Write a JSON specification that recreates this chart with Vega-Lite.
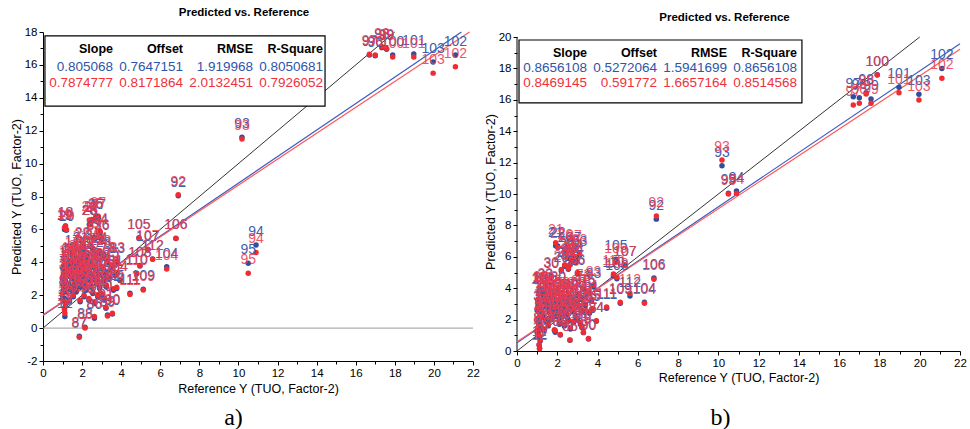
{
  "$schema": "https://vega.github.io/schema/vega-lite/v6.json",
  "background": "white",
  "autosize": {"type": "none"},
  "padding": {"left": 43, "top": 32, "right": 927, "bottom": 397},
  "bounds": "flush",
  "spacing": 44,
  "datasets": {
    "samples": [
      {"id":1,"ref":1.05,"a_ext":3.6,"a_int":3.7,"b_ext":3.2,"b_int":3.3},
      {"id":2,"ref":1.1,"a_ext":3.3,"a_int":3.4,"b_ext":2.9,"b_int":3.0},
      {"id":3,"ref":1.0,"a_ext":3.0,"a_int":3.1,"b_ext":2.6,"b_int":2.7},
      {"id":4,"ref":1.15,"a_ext":2.8,"a_int":2.9,"b_ext":2.3,"b_int":2.2},
      {"id":5,"ref":1.05,"a_ext":2.6,"a_int":2.5,"b_ext":2.0,"b_int":2.1},
      {"id":6,"ref":1.1,"a_ext":2.4,"a_int":2.3,"b_ext":1.8,"b_int":1.7},
      {"id":7,"ref":1.2,"a_ext":2.2,"a_int":2.3,"b_ext":1.5,"b_int":1.4},
      {"id":8,"ref":1.0,"a_ext":2.0,"a_int":2.1,"b_ext":1.2,"b_int":1.3},
      {"id":9,"ref":1.1,"a_ext":1.8,"a_int":1.7,"b_ext":0.9,"b_int":1.0},
      {"id":10,"ref":1.15,"a_ext":1.5,"a_int":1.4,"b_ext":0.64,"b_int":0.7},
      {"id":11,"ref":1.1,"a_ext":1.2,"a_int":1.1,"b_ext":0.38,"b_int":0.4},
      {"id":12,"ref":1.12,"a_ext":0.7,"a_int":0.9,"b_ext":0.17,"b_int":0.15},
      {"id":13,"ref":1.2,"a_ext":3.8,"a_int":3.9,"b_ext":3.7,"b_int":3.9},
      {"id":14,"ref":1.25,"a_ext":3.2,"a_int":3.3,"b_ext":2.4,"b_int":2.5},
      {"id":15,"ref":1.3,"a_ext":2.7,"a_int":2.6,"b_ext":2.1,"b_int":2.2},
      {"id":16,"ref":1.35,"a_ext":4.0,"a_int":4.1,"b_ext":3.4,"b_int":3.5},
      {"id":17,"ref":1.5,"a_ext":4.5,"a_int":4.4,"b_ext":3.2,"b_int":3.3},
      {"id":18,"ref":1.15,"a_ext":6.2,"a_int":6.2,"b_ext":3.85,"b_int":3.9},
      {"id":19,"ref":1.1,"a_ext":6.0,"a_int":6.1,"b_ext":3.75,"b_int":3.7},
      {"id":20,"ref":1.2,"a_ext":5.95,"a_int":6.0,"b_ext":3.8,"b_int":3.85},
      {"id":21,"ref":1.92,"a_ext":4.7,"a_int":4.8,"b_ext":6.7,"b_int":6.9},
      {"id":22,"ref":2.02,"a_ext":4.9,"a_int":5.0,"b_ext":6.69,"b_int":6.6},
      {"id":23,"ref":3.1,"a_ext":4.4,"a_int":4.5,"b_ext":6.1,"b_int":6.22},
      {"id":24,"ref":2.9,"a_ext":4.6,"a_int":4.7,"b_ext":5.9,"b_int":6.0},
      {"id":25,"ref":2.75,"a_ext":4.5,"a_int":4.6,"b_ext":6.1,"b_int":6.2},
      {"id":26,"ref":2.4,"a_ext":6.3,"a_int":6.3,"b_ext":6.4,"b_int":6.54},
      {"id":27,"ref":2.5,"a_ext":6.5,"a_int":6.6,"b_ext":5.9,"b_int":6.0},
      {"id":28,"ref":2.37,"a_ext":6.3,"a_int":6.57,"b_ext":5.4,"b_int":5.5},
      {"id":29,"ref":2.2,"a_ext":4.3,"a_int":4.4,"b_ext":5.1,"b_int":5.2},
      {"id":30,"ref":1.7,"a_ext":4.1,"a_int":4.2,"b_ext":4.7,"b_int":4.8},
      {"id":31,"ref":2.55,"a_ext":4.8,"a_int":4.85,"b_ext":5.2,"b_int":5.27},
      {"id":32,"ref":2.63,"a_ext":5.4,"a_int":5.5,"b_ext":5.5,"b_int":5.48},
      {"id":33,"ref":1.4,"a_ext":3.9,"a_int":4.0,"b_ext":4.0,"b_int":4.1},
      {"id":34,"ref":2.93,"a_ext":5.8,"a_int":5.86,"b_ext":5.69,"b_int":5.6},
      {"id":35,"ref":2.7,"a_ext":6.7,"a_int":6.77,"b_ext":5.7,"b_int":5.8},
      {"id":36,"ref":3.0,"a_ext":5.4,"a_int":5.46,"b_ext":4.9,"b_int":5.0},
      {"id":37,"ref":2.83,"a_ext":6.7,"a_int":6.8,"b_ext":6.4,"b_int":6.5},
      {"id":38,"ref":1.4,"a_ext":3.5,"a_int":3.6,"b_ext":3.1,"b_int":3.2},
      {"id":39,"ref":1.5,"a_ext":3.0,"a_int":3.1,"b_ext":2.8,"b_int":2.9},
      {"id":40,"ref":1.6,"a_ext":2.6,"a_int":2.7,"b_ext":2.5,"b_int":2.6},
      {"id":41,"ref":1.65,"a_ext":3.8,"a_int":3.9,"b_ext":3.3,"b_int":3.4},
      {"id":42,"ref":1.7,"a_ext":2.2,"a_int":2.3,"b_ext":2.0,"b_int":2.1},
      {"id":43,"ref":1.75,"a_ext":3.3,"a_int":3.4,"b_ext":2.9,"b_int":3.0},
      {"id":44,"ref":1.8,"a_ext":2.9,"a_int":3.0,"b_ext":2.6,"b_int":2.7},
      {"id":45,"ref":1.85,"a_ext":4.1,"a_int":4.2,"b_ext":3.5,"b_int":3.6},
      {"id":46,"ref":1.9,"a_ext":2.5,"a_int":2.6,"b_ext":2.2,"b_int":2.3},
      {"id":47,"ref":1.95,"a_ext":3.6,"a_int":3.7,"b_ext":3.1,"b_int":3.2},
      {"id":48,"ref":2.0,"a_ext":3.1,"a_int":3.2,"b_ext":2.7,"b_int":2.8},
      {"id":49,"ref":2.05,"a_ext":2.7,"a_int":2.8,"b_ext":2.4,"b_int":2.5},
      {"id":50,"ref":2.1,"a_ext":1.9,"a_int":2.0,"b_ext":1.7,"b_int":1.8},
      {"id":51,"ref":2.15,"a_ext":3.4,"a_int":3.5,"b_ext":3.0,"b_int":3.1},
      {"id":52,"ref":2.2,"a_ext":2.3,"a_int":2.4,"b_ext":2.1,"b_int":2.2},
      {"id":53,"ref":2.25,"a_ext":3.9,"a_int":4.0,"b_ext":3.4,"b_int":3.5},
      {"id":54,"ref":2.3,"a_ext":2.9,"a_int":3.0,"b_ext":2.6,"b_int":2.7},
      {"id":55,"ref":2.35,"a_ext":1.7,"a_int":1.8,"b_ext":1.6,"b_int":1.7},
      {"id":56,"ref":2.4,"a_ext":3.3,"a_int":3.4,"b_ext":3.0,"b_int":3.1},
      {"id":57,"ref":2.45,"a_ext":2.5,"a_int":2.6,"b_ext":2.3,"b_int":2.4},
      {"id":58,"ref":2.5,"a_ext":3.7,"a_int":3.8,"b_ext":3.4,"b_int":3.5},
      {"id":59,"ref":2.55,"a_ext":2.1,"a_int":2.2,"b_ext":1.9,"b_int":2.0},
      {"id":60,"ref":2.6,"a_ext":3.0,"a_int":3.1,"b_ext":2.8,"b_int":2.9},
      {"id":61,"ref":2.65,"a_ext":1.5,"a_int":1.6,"b_ext":1.4,"b_int":1.5},
      {"id":62,"ref":2.7,"a_ext":3.5,"a_int":3.6,"b_ext":3.3,"b_int":3.4},
      {"id":63,"ref":2.75,"a_ext":2.7,"a_int":2.8,"b_ext":2.5,"b_int":2.6},
      {"id":64,"ref":2.8,"a_ext":1.9,"a_int":2.0,"b_ext":1.8,"b_int":1.9},
      {"id":65,"ref":2.85,"a_ext":3.2,"a_int":3.3,"b_ext":3.1,"b_int":3.2},
      {"id":66,"ref":2.9,"a_ext":2.4,"a_int":2.5,"b_ext":2.2,"b_int":2.3},
      {"id":67,"ref":3.0,"a_ext":2.0,"a_int":2.1,"b_ext":2.0,"b_int":2.1},
      {"id":68,"ref":3.05,"a_ext":3.6,"a_int":3.7,"b_ext":3.5,"b_int":3.6},
      {"id":69,"ref":3.1,"a_ext":2.9,"a_int":3.0,"b_ext":2.8,"b_int":2.9},
      {"id":70,"ref":3.15,"a_ext":1.7,"a_int":1.8,"b_ext":1.7,"b_int":1.8},
      {"id":71,"ref":3.2,"a_ext":3.3,"a_int":3.4,"b_ext":3.3,"b_int":3.4},
      {"id":72,"ref":3.25,"a_ext":2.5,"a_int":2.6,"b_ext":2.5,"b_int":2.6},
      {"id":73,"ref":3.3,"a_ext":4.0,"a_int":4.1,"b_ext":3.9,"b_int":4.0},
      {"id":74,"ref":3.4,"a_ext":3.0,"a_int":3.1,"b_ext":2.9,"b_int":3.0},
      {"id":75,"ref":3.5,"a_ext":3.7,"a_int":3.8,"b_ext":3.6,"b_int":3.7},
      {"id":76,"ref":1.55,"a_ext":1.9,"a_int":2.0,"b_ext":1.6,"b_int":1.7},
      {"id":77,"ref":1.45,"a_ext":2.3,"a_int":2.4,"b_ext":1.9,"b_int":2.0},
      {"id":78,"ref":1.35,"a_ext":1.6,"a_int":1.7,"b_ext":1.3,"b_int":1.4},
      {"id":79,"ref":1.9,"a_ext":1.6,"a_int":1.7,"b_ext":1.2,"b_int":1.3},
      {"id":80,"ref":2.05,"a_ext":4.4,"a_int":4.5,"b_ext":3.8,"b_int":3.9},
      {"id":81,"ref":3.7,"a_ext":3.2,"a_int":3.3,"b_ext":3.2,"b_int":3.3},
      {"id":82,"ref":3.6,"a_ext":2.3,"a_int":2.4,"b_ext":2.4,"b_int":2.5},
      {"id":83,"ref":3.8,"a_ext":4.0,"a_int":4.1,"b_ext":4.1,"b_int":4.2},
      {"id":84,"ref":3.94,"a_ext":2.9,"a_int":2.92,"b_ext":1.9,"b_int":1.93},
      {"id":85,"ref":3.77,"a_ext":2.4,"a_int":2.48,"b_ext":2.6,"b_int":2.7},
      {"id":86,"ref":2.63,"a_ext":0.6,"a_int":0.7,"b_ext":0.68,"b_int":0.7},
      {"id":87,"ref":1.86,"a_ext":-0.5,"a_int":-0.56,"b_ext":1.3,"b_int":1.35},
      {"id":88,"ref":2.15,"a_ext":0.05,"a_int":0.0,"b_ext":1.02,"b_int":1.05},
      {"id":89,"ref":3.3,"a_ext":0.8,"a_int":0.74,"b_ext":1.17,"b_int":1.2},
      {"id":90,"ref":3.55,"a_ext":0.85,"a_int":0.9,"b_ext":0.76,"b_int":0.8},
      {"id":91,"ref":3.22,"a_ext":1.2,"a_int":1.25,"b_ext":1.5,"b_int":1.55},
      {"id":92,"ref":6.92,"a_ext":8.05,"a_int":8.1,"b_ext":8.4,"b_int":8.6},
      {"id":93,"ref":10.18,"a_ext":11.6,"a_int":11.5,"b_ext":11.8,"b_int":12.17},
      {"id":94,"ref":10.9,"a_ext":5.05,"a_int":4.6,"b_ext":10.19,"b_int":10.04},
      {"id":95,"ref":10.5,"a_ext":3.94,"a_int":3.33,"b_ext":10.05,"b_int":10.0},
      {"id":96,"ref":17.0,"a_ext":16.56,"a_int":16.6,"b_ext":16.13,"b_int":15.78},
      {"id":97,"ref":16.7,"a_ext":16.6,"a_int":16.65,"b_ext":16.2,"b_int":15.67},
      {"id":98,"ref":17.34,"a_ext":17.05,"a_int":17.1,"b_ext":16.45,"b_int":16.37},
      {"id":99,"ref":17.58,"a_ext":16.95,"a_int":17.0,"b_ext":16.05,"b_int":15.78},
      {"id":100,"ref":17.89,"a_ext":16.6,"a_int":16.48,"b_ext":17.6,"b_int":17.58},
      {"id":101,"ref":18.97,"a_ext":16.66,"a_int":16.48,"b_ext":16.8,"b_int":16.45},
      {"id":102,"ref":21.1,"a_ext":16.6,"a_int":15.89,"b_ext":18.0,"b_int":17.37},
      {"id":103,"ref":19.96,"a_ext":16.18,"a_int":15.5,"b_ext":16.35,"b_int":15.99},
      {"id":104,"ref":6.33,"a_ext":3.73,"a_int":3.59,"b_ext":3.1,"b_int":3.04},
      {"id":105,"ref":4.91,"a_ext":5.5,"a_int":5.45,"b_ext":5.84,"b_int":5.65},
      {"id":106,"ref":6.8,"a_ext":5.45,"a_int":5.46,"b_ext":4.65,"b_int":4.57},
      {"id":107,"ref":5.36,"a_ext":4.75,"a_int":4.8,"b_ext":5.45,"b_int":5.48},
      {"id":108,"ref":4.96,"a_ext":3.78,"a_int":3.8,"b_ext":4.6,"b_int":4.7},
      {"id":109,"ref":5.13,"a_ext":2.36,"a_int":2.32,"b_ext":3.04,"b_int":3.1},
      {"id":110,"ref":4.79,"a_ext":3.33,"a_int":3.3,"b_ext":4.8,"b_int":4.9},
      {"id":111,"ref":4.45,"a_ext":2.12,"a_int":2.05,"b_ext":2.72,"b_int":2.8},
      {"id":112,"ref":5.61,"a_ext":4.2,"a_int":4.18,"b_ext":3.5,"b_int":3.67}
    ],
    "stats": [
      {"panel":"a","stat":"Slope","ext":"0.805068","int":"0.7874777"},
      {"panel":"a","stat":"Offset","ext":"0.7647151","int":"0.8171864"},
      {"panel":"a","stat":"RMSE","ext":"1.919968","int":"2.0132451"},
      {"panel":"a","stat":"R-Square","ext":"0.8050681","int":"0.7926052"},
      {"panel":"b","stat":"Slope","ext":"0.8656108","int":"0.8469145"},
      {"panel":"b","stat":"Offset","ext":"0.5272064","int":"0.591772"},
      {"panel":"b","stat":"RMSE","ext":"1.5941699","int":"1.6657164"},
      {"panel":"b","stat":"R-Square","ext":"0.8656108","int":"0.8514568"}
    ]
  },
  "hconcat": [
    {
      "width": 430,
      "height": 329,
      "title": {"text": "Predicted vs. Reference", "frame": "group", "anchor": "middle", "dx": -14, "dy": 11, "offset": 9.5, "baseline": "alphabetic", "font": "Liberation Sans", "fontSize": 11.5, "fontWeight": "bold", "color": "black"},
      "data": {"name": "samples"},
      "resolve": {"scale": {"x": "independent", "y": "independent"}},
      "layer": [
        {
          "data": {"values": [{}]},
          "mark": {"type": "rule", "color": "#9a9a9a", "strokeWidth": 1},
          "encoding": {
            "x": {"datum": 0, "type": "quantitative", "scale": {"domain": [0, 22], "nice": false},
              "axis": {"orient": "bottom", "values": [1,3,5,7,9,11,13,15,17,19,21], "tickCount": 50, "labels": false, "ticks": true, "tickSize": 3, "domain": false, "grid": false, "title": "a)", "titleFont": "Liberation Serif", "titleFontSize": 24, "titleFontWeight": "normal", "titleColor": "black", "titlePadding": 41, "titleX": 190}},
            "x2": {"datum": 22},
            "y": {"datum": 0, "type": "quantitative", "scale": {"domain": [-2, 18], "nice": false},
              "axis": {"orient": "left", "values": [-1,1,3,5,7,9,11,13,15,17], "tickCount": 50, "labels": false, "ticks": true, "tickSize": 3, "domain": false, "grid": false, "title": null}}
          }
        },
        {
          "layer": [
            {"data": {"values": [{}]}, "mark": {"type": "rule", "color": "#333333", "strokeWidth": 1},
              "encoding": {"x": {"datum": 0}, "y": {"datum": 0}, "x2": {"datum": 18}, "y2": {"datum": 18}}},
            {"data": {"values": [{}]}, "mark": {"type": "rule", "color": "#3b5cc4", "strokeWidth": 1.2},
              "encoding": {"x": {"datum": 0}, "y": {"datum": 0.7647151}, "x2": {"datum": 21.408}, "y2": {"datum": 18}}},
            {"data": {"values": [{}]}, "mark": {"type": "rule", "color": "#ff5a5a", "strokeWidth": 1.2},
              "encoding": {"x": {"datum": 0}, "y": {"datum": 0.8171864}, "x2": {"datum": 21.82}, "y2": {"datum": 18}}},
            {"mark": {"type": "circle", "size": 30, "opacity": 1, "color": "#2d4f9e"},
              "encoding": {
                "x": {"field": "ref", "type": "quantitative", "scale": {"domain": [0, 22], "nice": false},
                  "axis": {"orient": "bottom", "values": [0,2,4,6,8,10,12,14,16,18,20,22], "tickCount": 50, "labelExpr": "'' + datum.value", "labelOverlap": false, "labelBound": false, "labelFlush": false, "tickSize": 4, "title": "Reference Y (TUO, Factor-2)", "titlePadding": 4}},
                "y": {"field": "a_ext", "type": "quantitative", "scale": {"domain": [-2, 18], "nice": false},
                  "axis": {"orient": "left", "values": [-2,0,2,4,6,8,10,12,14,16,18], "tickCount": 50, "labelExpr": "'' + datum.value", "labelOverlap": false, "labelBound": false, "labelFlush": false, "tickSize": 4, "title": "Predicted Y (TUO, Factor-2)", "titlePadding": 1}}
              }},
            {"mark": {"type": "circle", "size": 30, "opacity": 1, "color": "#f12b32"},
              "encoding": {"x": {"field": "ref", "type": "quantitative"}, "y": {"field": "a_int", "type": "quantitative", "title": "Predicted Y (TUO, Factor-2)"}}},
            {"mark": {"type": "text", "font": "Liberation Sans", "fontSize": 14, "baseline": "alphabetic", "dy": -9, "color": "#3f5fae"},
              "encoding": {"x": {"field": "ref", "type": "quantitative"}, "y": {"field": "a_ext", "type": "quantitative", "title": "Predicted Y (TUO, Factor-2)"}, "text": {"field": "id", "type": "nominal"}}},
            {"mark": {"type": "text", "font": "Liberation Sans", "fontSize": 14, "baseline": "alphabetic", "dy": -9, "color": "#ec3a4f", "opacity": 0.85},
              "encoding": {"x": {"field": "ref", "type": "quantitative"}, "y": {"field": "a_int", "type": "quantitative", "title": "Predicted Y (TUO, Factor-2)"}, "text": {"field": "id", "type": "nominal"}}},
            {"data": {"values": [{}]}, "mark": {"type": "rect", "fill": "white", "stroke": "black", "strokeWidth": 1.2},
              "encoding": {"x": {"datum": 0.1}, "x2": {"datum": 14.43}, "y": {"datum": 17.76}, "y2": {"datum": 13.5}}},
            {"data": {"name": "stats"}, "transform": [{"filter": "datum.panel === 'a'"}],
              "mark": {"type": "text", "align": "right", "baseline": "middle", "font": "Liberation Sans", "fontSize": 12.5, "fontWeight": "bold", "color": "black"},
              "encoding": {"x": {"datum": 0}, "xOffset": {"field": "stat", "type": "nominal", "scale": {"type": "point", "domain": ["Slope", "Offset", "RMSE", "R-Square"], "range": [70, 280], "padding": 0}}, "y": {"datum": 16.94}, "text": {"field": "stat"}}},
            {"data": {"name": "stats"}, "transform": [{"filter": "datum.panel === 'a'"}],
              "mark": {"type": "text", "align": "right", "baseline": "middle", "font": "Liberation Sans", "fontSize": 13.5, "color": "#2f55a8"},
              "encoding": {"x": {"datum": 0}, "xOffset": {"field": "stat", "type": "nominal", "scale": {"type": "point", "domain": ["Slope", "Offset", "RMSE", "R-Square"], "range": [70, 280], "padding": 0}}, "y": {"datum": 15.9}, "text": {"field": "ext"}}},
            {"data": {"name": "stats"}, "transform": [{"filter": "datum.panel === 'a'"}],
              "mark": {"type": "text", "align": "right", "baseline": "middle", "font": "Liberation Sans", "fontSize": 13.5, "color": "#f0303a"},
              "encoding": {"x": {"datum": 0}, "xOffset": {"field": "stat", "type": "nominal", "scale": {"type": "point", "domain": ["Slope", "Offset", "RMSE", "R-Square"], "range": [70, 280], "padding": 0}}, "y": {"datum": 14.9}, "text": {"field": "int"}}}
          ]
        }
      ]
    },
    {
      "width": 443,
      "height": 319,
      "title": {"text": "Predicted vs. Reference", "frame": "group", "anchor": "middle", "dx": -14, "dy": 11, "offset": 9.25, "baseline": "alphabetic", "font": "Liberation Sans", "fontSize": 11.5, "fontWeight": "bold", "color": "black"},
      "data": {"name": "samples"},
      "resolve": {"scale": {"x": "independent", "y": "independent"}},
      "layer": [
        {
          "data": {"values": [{}]},
          "mark": {"type": "rule", "color": "black", "strokeWidth": 1},
          "encoding": {
            "x": {"datum": 0, "type": "quantitative", "scale": {"domain": [0, 22], "nice": false},
              "axis": {"orient": "bottom", "values": [1,3,5,7,9,11,13,15,17,19,21], "tickCount": 50, "labels": false, "ticks": true, "tickSize": 3, "domain": false, "grid": false, "title": "b)", "titleFont": "Liberation Serif", "titleFontSize": 24, "titleFontWeight": "normal", "titleColor": "black", "titlePadding": 51, "titleX": 203}},
            "y": {"datum": 0, "type": "quantitative", "scale": {"domain": [0, 20.32], "nice": false},
              "axis": {"orient": "left", "values": [1,3,5,7,9,11,13,15,17,19], "tickCount": 50, "labels": false, "ticks": true, "tickSize": 3, "domain": false, "grid": false, "title": null}},
            "y2": {"datum": 20}
          }
        },
        {
          "layer": [
            {"data": {"values": [{}]}, "mark": {"type": "rule", "color": "#333333", "strokeWidth": 1},
              "encoding": {"x": {"datum": 0}, "y": {"datum": 0}, "x2": {"datum": 20}, "y2": {"datum": 20}}},
            {"data": {"values": [{}]}, "mark": {"type": "rule", "color": "#3b5cc4", "strokeWidth": 1.2},
              "encoding": {"x": {"datum": 0}, "y": {"datum": 0.5272064}, "x2": {"datum": 22}, "y2": {"datum": 19.5707}}},
            {"data": {"values": [{}]}, "mark": {"type": "rule", "color": "#ff5a5a", "strokeWidth": 1.2},
              "encoding": {"x": {"datum": 0}, "y": {"datum": 0.591772}, "x2": {"datum": 22}, "y2": {"datum": 19.2239}}},
            {"mark": {"type": "circle", "size": 30, "opacity": 1, "color": "#2d4f9e"},
              "encoding": {
                "x": {"field": "ref", "type": "quantitative", "scale": {"domain": [0, 22], "nice": false},
                  "axis": {"orient": "bottom", "values": [0,2,4,6,8,10,12,14,16,18,20,22], "tickCount": 50, "labelExpr": "'' + datum.value", "labelOverlap": false, "labelBound": false, "labelFlush": false, "tickSize": 4, "title": "Reference Y (TUO, Factor-2)", "titlePadding": 3}},
                "y": {"field": "b_ext", "type": "quantitative", "scale": {"domain": [0, 20.32], "nice": false},
                  "axis": {"orient": "left", "values": [0,2,4,6,8,10,12,14,16,18,20], "tickCount": 50, "labelExpr": "'' + datum.value", "labelOverlap": false, "labelBound": false, "labelFlush": false, "tickSize": 4, "domain": false, "title": "Predicted Y (TUO, Factor-2)", "titlePadding": 1}}
              }},
            {"mark": {"type": "circle", "size": 30, "opacity": 1, "color": "#f12b32"},
              "encoding": {"x": {"field": "ref", "type": "quantitative"}, "y": {"field": "b_int", "type": "quantitative", "title": "Predicted Y (TUO, Factor-2)"}}},
            {"mark": {"type": "text", "font": "Liberation Sans", "fontSize": 14, "baseline": "alphabetic", "dy": -9, "color": "#3f5fae"},
              "encoding": {"x": {"field": "ref", "type": "quantitative"}, "y": {"field": "b_ext", "type": "quantitative", "title": "Predicted Y (TUO, Factor-2)"}, "text": {"field": "id", "type": "nominal"}}},
            {"mark": {"type": "text", "font": "Liberation Sans", "fontSize": 14, "baseline": "alphabetic", "dy": -9, "color": "#ec3a4f", "opacity": 0.85},
              "encoding": {"x": {"field": "ref", "type": "quantitative"}, "y": {"field": "b_int", "type": "quantitative", "title": "Predicted Y (TUO, Factor-2)"}, "text": {"field": "id", "type": "nominal"}}},
            {"data": {"values": [{}]}, "mark": {"type": "rect", "fill": "white", "stroke": "black", "strokeWidth": 1.2},
              "encoding": {"x": {"datum": 0.1}, "x2": {"datum": 14.15}, "y": {"datum": 19.81}, "y2": {"datum": 15.8}}},
            {"data": {"name": "stats"}, "transform": [{"filter": "datum.panel === 'b'"}],
              "mark": {"type": "text", "align": "right", "baseline": "middle", "font": "Liberation Sans", "fontSize": 12.5, "fontWeight": "bold", "color": "black"},
              "encoding": {"x": {"datum": 0}, "xOffset": {"field": "stat", "type": "nominal", "scale": {"type": "point", "domain": ["Slope", "Offset", "RMSE", "R-Square"], "range": [70, 281], "padding": 0}}, "y": {"datum": 19.0}, "text": {"field": "stat"}}},
            {"data": {"name": "stats"}, "transform": [{"filter": "datum.panel === 'b'"}],
              "mark": {"type": "text", "align": "right", "baseline": "middle", "font": "Liberation Sans", "fontSize": 13.5, "color": "#2f55a8"},
              "encoding": {"x": {"datum": 0}, "xOffset": {"field": "stat", "type": "nominal", "scale": {"type": "point", "domain": ["Slope", "Offset", "RMSE", "R-Square"], "range": [70, 281], "padding": 0}}, "y": {"datum": 18.0}, "text": {"field": "ext"}}},
            {"data": {"name": "stats"}, "transform": [{"filter": "datum.panel === 'b'"}],
              "mark": {"type": "text", "align": "right", "baseline": "middle", "font": "Liberation Sans", "fontSize": 13.5, "color": "#f0303a"},
              "encoding": {"x": {"datum": 0}, "xOffset": {"field": "stat", "type": "nominal", "scale": {"type": "point", "domain": ["Slope", "Offset", "RMSE", "R-Square"], "range": [70, 281], "padding": 0}}, "y": {"datum": 17.04}, "text": {"field": "int"}}}
          ]
        }
      ]
    }
  ],
  "config": {
    "view": {"stroke": null},
    "axis": {
      "grid": false,
      "domainColor": "black",
      "tickColor": "black",
      "labelColor": "black",
      "titleColor": "black",
      "labelFont": "Liberation Sans",
      "labelFontSize": 11.5,
      "titleFont": "Liberation Sans",
      "titleFontSize": 12.5,
      "titleFontWeight": "normal",
      "tickSize": 4,
      "labelPadding": 2
    }
  }
}
